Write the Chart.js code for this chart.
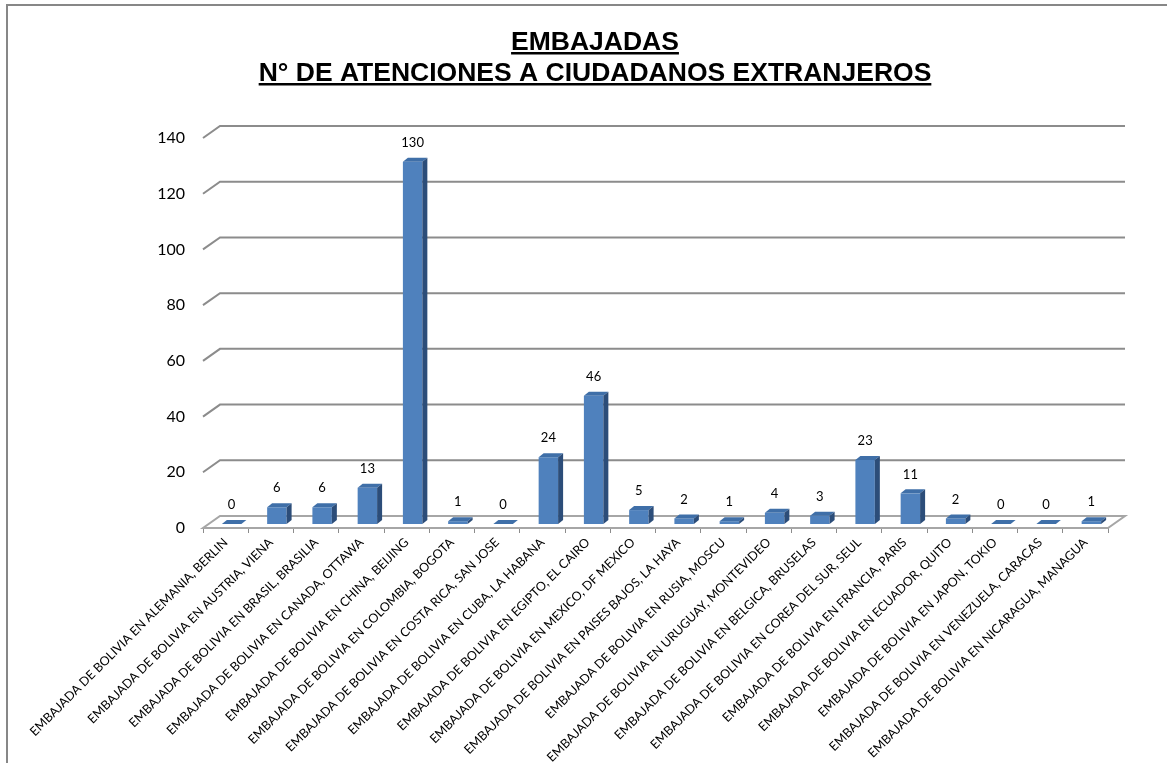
<!DOCTYPE html>
<html lang="es">
<head>
<meta charset="utf-8">
<title>Embajadas - atenciones a ciudadanos extranjeros</title>
<script src="https://cdn.jsdelivr.net/npm/chart.js@4.4.1/dist/chart.umd.min.js"></script>
<style>
  html, body { margin: 0; padding: 0; background: #fff; }
  #wrap { width: 1167px; height: 763px; }
</style>
</head>
<body>
<div id="wrap"><canvas id="chart" width="1167" height="763"></canvas></div>
<script>
const categories = [
  'EMBAJADA DE BOLIVIA EN ALEMANIA, BERLIN',
  'EMBAJADA DE BOLIVIA EN AUSTRIA, VIENA',
  'EMBAJADA DE BOLIVIA EN BRASIL, BRASILIA',
  'EMBAJADA DE BOLIVIA EN CANADA, OTTAWA',
  'EMBAJADA DE BOLIVIA EN CHINA, BEIJING',
  'EMBAJADA DE BOLIVIA EN COLOMBIA, BOGOTA',
  'EMBAJADA DE BOLIVIA EN COSTA RICA, SAN JOSE',
  'EMBAJADA DE BOLIVIA EN CUBA, LA HABANA',
  'EMBAJADA DE BOLIVIA EN EGIPTO, EL CAIRO',
  'EMBAJADA DE BOLIVIA EN MEXICO, DF MEXICO',
  'EMBAJADA DE BOLIVIA EN PAISES BAJOS, LA HAYA',
  'EMBAJADA DE BOLIVIA EN RUSIA, MOSCU',
  'EMBAJADA DE BOLIVIA EN URUGUAY, MONTEVIDEO',
  'EMBAJADA DE BOLIVIA EN BELGICA, BRUSELAS',
  'EMBAJADA DE BOLIVIA EN COREA DEL SUR, SEUL',
  'EMBAJADA DE BOLIVIA EN FRANCIA, PARIS',
  'EMBAJADA DE BOLIVIA EN ECUADOR, QUITO',
  'EMBAJADA DE BOLIVIA EN JAPON, TOKIO',
  'EMBAJADA DE BOLIVIA EN VENEZUELA, CARACAS',
  'EMBAJADA DE BOLIVIA EN NICARAGUA, MANAGUA'
];
const atenciones = [0, 6, 6, 13, 130, 1, 0, 24, 46, 5, 2, 1, 4, 3, 23, 11, 2, 0, 0, 1];
const titleLines = ['EMBAJADAS', 'N° DE ATENCIONES A CIUDADANOS EXTRANJEROS'];
const yMin = 0, yMax = 140, yStep = 20;

// fake 3d: back wall offset, bar plane offset, bar depth
const WALL = { dx: 17, dy: 12 };
const PLANE = { dx: 6, dy: 4 };
const DEPTH = { dx: 5, dy: 4 };
const GRID = '#8c8c8c';

const frame3d = {
  id: 'frame3d',
  beforeDraw(chart) {
    const ctx = chart.ctx;
    ctx.save();
    ctx.fillStyle = '#fff';
    ctx.fillRect(0, 0, chart.width, chart.height);
    ctx.strokeStyle = '#878787';
    ctx.lineWidth = 2;
    ctx.beginPath();
    ctx.moveTo(7, chart.height);
    ctx.lineTo(7, 5);
    ctx.lineTo(chart.width, 5);
    ctx.stroke();
    // title, underlined
    ctx.fillStyle = '#000';
    ctx.font = 'bold 26.5px "Liberation Sans", Arial, sans-serif';
    ctx.textAlign = 'center';
    ctx.textBaseline = 'alphabetic';
    const cx = 595;
    [50, 81].forEach((base, i) => {
      const w = ctx.measureText(titleLines[i]).width;
      ctx.fillText(titleLines[i], cx, base);
      ctx.fillRect(cx - w / 2, base + 2, w, 2.5);
    });
    ctx.restore();
  },
  beforeDatasetsDraw(chart) {
    const ctx = chart.ctx;
    const area = chart.chartArea;
    const y = chart.scales.y;
    ctx.save();
    ctx.strokeStyle = GRID;
    ctx.lineWidth = 2;
    y.ticks.forEach(t => {
      if (t.value === 0) return;
      const py = y.getPixelForValue(t.value);
      ctx.beginPath();
      ctx.moveTo(area.left, py);
      ctx.lineTo(area.left + WALL.dx, py - WALL.dy);
      ctx.lineTo(area.right + WALL.dx, py - WALL.dy);
      ctx.stroke();
    });
    // floor
    const fy = y.getPixelForValue(0);
    ctx.fillStyle = '#fff';
    ctx.strokeStyle = '#a6a6a6';
    ctx.beginPath();
    ctx.moveTo(area.left, fy);
    ctx.lineTo(area.right, fy);
    ctx.lineTo(area.right + WALL.dx, fy - WALL.dy);
    ctx.lineTo(area.left + WALL.dx, fy - WALL.dy);
    ctx.closePath();
    ctx.fill();
    ctx.stroke();
    ctx.restore();
    // bars sit a little behind the front edge of the floor
    ctx.save();
    ctx.translate(PLANE.dx, -PLANE.dy);
  },
  afterDatasetsDraw(chart) {
    const ctx = chart.ctx;
    const meta = chart.getDatasetMeta(0);
    meta.data.forEach((bar, i) => {
      const p = bar.getProps(['x', 'y', 'base', 'width'], true);
      const l = p.x - p.width / 2, r = p.x + p.width / 2;
      ctx.fillStyle = '#3f6fa8';
      ctx.beginPath();
      ctx.moveTo(l, p.y);
      ctx.lineTo(l + DEPTH.dx, p.y - DEPTH.dy);
      ctx.lineTo(r + DEPTH.dx, p.y - DEPTH.dy);
      ctx.lineTo(r, p.y);
      ctx.closePath();
      ctx.fill();
      if (p.base - p.y > 0.5) {
        ctx.fillStyle = '#2c4d79';
        ctx.beginPath();
        ctx.moveTo(r, p.y);
        ctx.lineTo(r + DEPTH.dx, p.y - DEPTH.dy);
        ctx.lineTo(r + DEPTH.dx, p.base - DEPTH.dy);
        ctx.lineTo(r, p.base);
        ctx.closePath();
        ctx.fill();
      }
      ctx.fillStyle = '#000';
      ctx.font = '13px Lato, sans-serif';
      ctx.textAlign = 'center';
      ctx.textBaseline = 'middle';
      ctx.fillText(String(atenciones[i]), p.x, p.y - 19);
    });
    ctx.restore();
  }
};

new Chart(document.getElementById('chart'), {
  type: 'bar',
  data: {
    labels: categories,
    datasets: [{
      data: atenciones,
      backgroundColor: '#4f81bd',
      borderWidth: 0,
      categoryPercentage: 1,
      barPercentage: 0.43
    }]
  },
  options: {
    responsive: false,
    animation: false,
    devicePixelRatio: 1,
    layout: { padding: { top: 138, right: 59, left: 0, bottom: 0 } },
    plugins: {
      legend: { display: false },
      title: { display: false },
      tooltip: { enabled: false }
    },
    scales: {
      x: {
        grid: { display: true, drawOnChartArea: false, drawTicks: true, tickLength: 5, color: GRID, offset: true },
        border: { display: false },
        ticks: {
          autoSkip: false,
          maxRotation: 45,
          minRotation: 45,
          padding: 2,
          color: '#000',
          font: { family: 'Lato', size: 12.5 }
        },
        afterFit(s) { s.height = 763 - 528; }
      },
      y: {
        min: yMin,
        max: yMax,
        grid: { display: false },
        border: { display: false },
        ticks: {
          stepSize: yStep,
          padding: 10,
          color: '#000',
          font: { family: 'Lato', size: 16 }
        },
        afterFit(s) { s.width = 203; }
      }
    }
  },
  plugins: [frame3d]
});
</script>
</body>
</html>
